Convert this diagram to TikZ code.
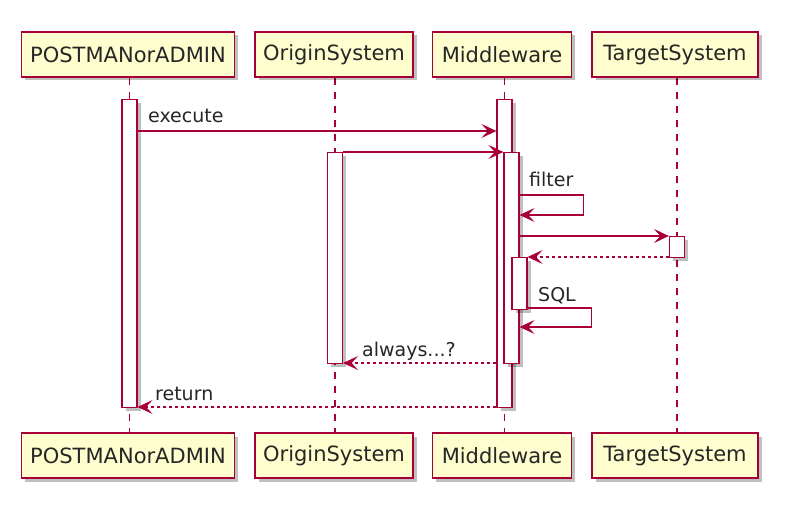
\documentclass[tikz,border=0pt]{standalone}
\usepackage{fontspec}
\setmainfont{DejaVu Sans}
\usetikzlibrary{arrows.meta, shadows, backgrounds}
\definecolor{umlred}{HTML}{A80036}
\definecolor{umlfill}{HTML}{FEFECE}

\begin{document}
\begin{tikzpicture}[x=1pt, y=-1pt,
  >={Stealth[length=15pt, width=14pt, inset=6.5pt]},
  umlshadow/.style={drop shadow={shadow xshift=3.5pt, shadow yshift=-3.5pt, opacity=0.25, fill=black}},
  actor/.style={draw=umlred, fill=umlfill, line width=1.6pt, minimum height=45pt,
    inner sep=0pt, font=\fontsize{21}{24}\selectfont, text=black!85, umlshadow},
  lifeline/.style={umlred, line width=1.2pt, dash pattern=on 7pt off 7pt},
  actbar/.style={draw=umlred, fill=white, line width=1.2pt, minimum width=15pt,
    inner sep=0pt, anchor=north, umlshadow},
  msg/.style={umlred, line width=1.2pt, ->},
  reply/.style={msg, dash pattern=on 3pt off 3pt},
  lbl/.style={anchor=base west, inner sep=0pt, font=\fontsize{19}{22}\selectfont, text=black!85}]

  \useasboundingbox (0,0) rectangle (811,505);

  % participants, top and bottom
  \node[actor, minimum width=213pt] (post)   at (128,54.5) {POSTMANorADMIN};
  \node[actor, minimum width=158pt] (origin) at (334,54.5) {OriginSystem};
  \node[actor, minimum width=139pt] (mw)     at (502,54.5) {Middleware};
  \node[actor, minimum width=166pt] (target) at (675,54.5) {TargetSystem};

  \node[actor, minimum width=213pt] (postB)   at (128,455.5) {POSTMANorADMIN};
  \node[actor, minimum width=158pt] (originB) at (334,455.5) {OriginSystem};
  \node[actor, minimum width=139pt] (mwB)     at (502,455.5) {Middleware};
  \node[actor, minimum width=166pt] (targetB) at (675,455.5) {TargetSystem};

  % activation bars
  \node[actbar, minimum height=308pt] (postAct)   at (129.5,99) {};
  \node[actbar, minimum height=211pt] (originAct) at (335,152) {};
  \node[actbar, minimum height=308pt] (mwAct)     at (504.5,99) {};
  \node[actbar, minimum height=211pt] (mwActB)    at (511.5,152) {};
  \node[actbar, minimum height=52pt]  (mwActC)    at (519.5,257) {};
  \node[actbar, minimum height=21pt]  (targetAct) at (677,236) {};

  % lifelines, behind the bars
  \begin{scope}[on background layer]
    \draw[lifeline] (post.south -| postAct) -- (postB.north -| postAct);
    \draw[lifeline] (origin.south -| originAct) -- (originB.north -| originAct);
    \draw[lifeline] (mw.south -| mwAct) -- (mwB.north -| mwAct);
    \draw[lifeline] (target.south -| targetAct) -- (targetB.north -| targetAct);
  \end{scope}

  % calls
  \draw[msg] (postAct.east |- 0,131) -- (mwAct.west |- 0,131);
  \node[lbl] (lExec) at (148,123) {execute};

  \draw[msg] (originAct.east |- 0,152) -- (mwActB.west |- 0,152);

  \draw[msg] (mwActB.east |- 0,195) -- ++(64,0) -- ++(0,20) -- (mwActB.east |- 0,215);
  \node[lbl] (lFilter) at (529,187) {filter};

  \draw[msg] (mwActB.east |- 0,236) -- (targetAct.west |- 0,236);
  \draw[reply] (targetAct.west |- 0,257) -- (mwActC.east |- 0,257);

  \draw[msg] (mwActC.east |- 0,308) -- ++(64,0) -- ++(0,19) -- (mwActB.east |- 0,327);
  \node[lbl] (lSql) at (538,301) {SQL};

  % replies
  \draw[reply] (mwAct.west |- 0,363) -- (originAct.east |- 0,363);
  \node[lbl] (lAlways) at (362,356) {always...?};

  \draw[reply] (mwAct.west |- 0,407) -- (postAct.east |- 0,407);
  \node[lbl] (lReturn) at (155,400) {return};
\end{tikzpicture}
\end{document}
